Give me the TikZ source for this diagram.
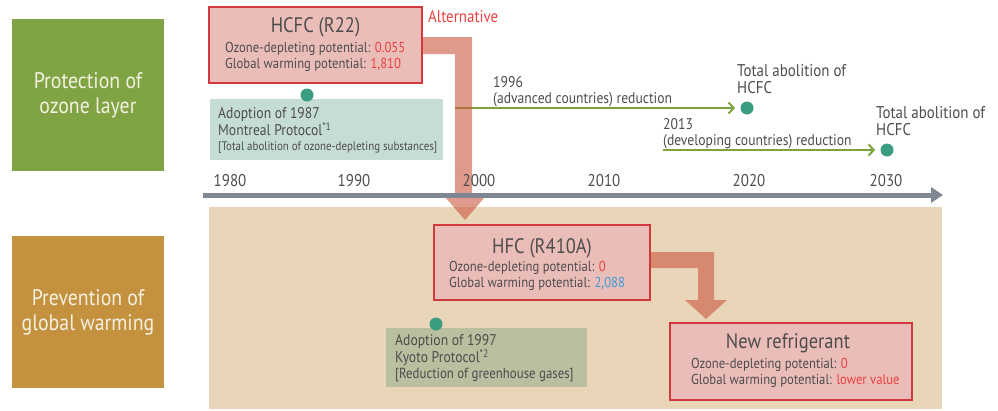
\documentclass[tikz,border=0pt]{standalone}
\usepackage{fontspec}
\setmainfont{PT Sans}[FakeStretch=0.88]
\usetikzlibrary{arrows.meta}
\definecolor{ozgreen}{HTML}{80A443}
\definecolor{warmorange}{HTML}{C4913F}
\definecolor{boxred}{HTML}{D2393E}
\definecolor{boxfill}{HTML}{EBBDB9}
\definecolor{accent}{HTML}{E8413F}
\definecolor{accblue}{HTML}{3B9AD8}
\definecolor{txt}{HTML}{4D4D4D}
\definecolor{tealfill}{HTML}{C6DDD4}
\definecolor{kyotofill}{HTML}{B9BF9F}
\definecolor{beige}{HTML}{E9D6B9}
\definecolor{axisgray}{HTML}{7F8792}
\definecolor{arrgreen}{HTML}{7CA43C}
\definecolor{dotteal}{HTML}{3A9C80}
\definecolor{bigarrow}{RGB}{203,87,62}
\definecolor{sidetxt}{HTML}{F4F1E2}
\tikzset{
  catbox/.style={minimum width=152, minimum height=152, inner sep=0, text=sidetxt, align=center, font=\fontsize{22.5}{25}\selectfont},
  redbox/.style={draw=boxred, line width=2.4pt, fill=boxfill, inner sep=0},
  title/.style={text=txt, font=\fontsize{21}{24}\selectfont, inner sep=0},
  lines/.style={text=txt, font=\fontsize{14.4}{16}\selectfont, align=left, anchor=west, inner sep=0},
  protbox/.style={inner sep=0},
  prottext/.style={text=txt, font=\fontsize{15.5}{16}\selectfont, align=left, anchor=west, inner sep=0},
  smalltext/.style={text=txt, font=\fontsize{12.4}{14}\selectfont, anchor=west, inner sep=0},
  year/.style={text=txt, font=\fontsize{17}{18}\selectfont, inner sep=0},
  dot/.style={circle, fill=dotteal, minimum size=13, inner sep=0},
  greenarrow/.style={draw=arrgreen, line width=2pt, -{Straight Barb[length=5pt,width=11pt,line width=2pt]}},
  fatarrow/.style={fill=bigarrow, fill opacity=0.6, draw=none},
  abol/.style={text=txt, font=\fontsize{17}{17}\selectfont, align=left, anchor=west, inner sep=0},
}
\begin{document}
\begin{tikzpicture}[x=1pt,y=-1pt]
\useasboundingbox (0,0) rectangle (998,410);
% category boxes
\node[catbox, fill=ozgreen] (ozone) at (88,95) {Protection of\\ozone layer};
\node[catbox, fill=warmorange] (warming) at (88,312) {Prevention of\\global warming};
% beige background
\fill[beige] (209,207) rectangle (942,409);
% green reduction arrows (under the fat arrow)
\coordinate (g1s) at (455,108);
\coordinate (g1e) at (735,108);
\coordinate (g2s) at (663,150);
\coordinate (g2e) at (875,150);
\draw[greenarrow] (g1s) -- (g1e);
\draw[greenarrow] (g2s) -- (g2e);
% fat arrows
\fill[fatarrow] (422,37) -- (472,37) -- (472,197) -- (485,197) -- (465,220) -- (445,197) -- (455,197) -- (455,54) -- (422,54) -- cycle;
\fill[fatarrow] (650,252) -- (714,252) -- (714,300) -- (727,300) -- (706,319) -- (685,300) -- (698,300) -- (698,268) -- (650,268) -- cycle;
% axis
\coordinate (axs) at (203,195);
\coordinate (axe) at (943,195);
\draw[axisgray, line width=5pt, -{Triangle[length=12pt,width=15pt]}] (axs) -- (axe);
\node[year] (y1980) at (230,181) {1980};
\node[year] (y1990) at (354,181) {1990};
\node[year] (y2000) at (479,181) {2000};
\node[year] (y2010) at (604,181) {2010};
\node[year] (y2020) at (749,181) {2020};
\node[year] (y2030) at (886,181) {2030};
% HCFC box
\node[redbox, minimum width=213, minimum height=76] (hcfc) at (315.5,45) {};
\node[title] (hcfct) at (315.5,27) {HCFC (R22)};
\node[lines] (hcfcl) at (225,57) {Ozone-depleting potential: \textcolor{accent}{0.055}\\Global warming potential: \textcolor{accent}{1,810}};
\node[text=accent, font=\fontsize{17}{18}\selectfont, anchor=west, inner sep=0] (alt) at (428,17) {Alternative};
% Montreal
\node[protbox, fill=tealfill, minimum width=233, minimum height=61] (montreal) at (326.5,129.5) {};
\node[dot] (mdot) at (307,95) {};
\node[prottext] (mt) at (218,122) {Adoption of 1987\\Montreal Protocol\textsuperscript{*1}};
\node[smalltext] (ms) at (218,148) {[Total abolition of ozone-depleting substances]};
% reduction texts
\node[prottext] (r1) at (493,92) {1996\\(advanced countries) reduction};
\node[prottext] (r2) at (663,134) {2013\\(developing countries) reduction};
\node[dot] (d1) at (747,108) {};
\node[dot] (d2) at (887,150) {};
\node[abol] (a1) at (737,79) {Total abolition of\\HCFC};
\node[abol] (a2) at (876,121) {Total abolition of\\HCFC};
% HFC box
\node[redbox, minimum width=216, minimum height=75] (hfc) at (542,262.5) {};
\node[title] (hfct) at (542,248) {HFC (R410A)};
\node[lines] (hfcl) at (449,276) {Ozone-depleting potential: \textcolor{accent}{0}\\Global warming potential: \textcolor{accblue}{2,088}};
% Kyoto
\node[protbox, fill=kyotofill, minimum width=201, minimum height=59] (kyoto) at (486.5,357.5) {};
\node[dot] (kdot) at (436,324) {};
\node[prottext] (kt) at (395,350) {Adoption of 1997\\Kyoto Protocol\textsuperscript{*2}};
\node[smalltext, font=\fontsize{14.6}{16}\selectfont] (ks) at (395,375) {[Reduction of greenhouse gases]};
% New refrigerant
\node[redbox, minimum width=242, minimum height=77] (newr) at (791,361.5) {};
\node[title] (newt) at (788,343) {New refrigerant};
\node[lines] (newl) at (691,373) {Ozone-depleting potential: \textcolor{accent}{0}\\Global warming potential: \textcolor{accent}{lower value}};
\end{tikzpicture}
\end{document}
